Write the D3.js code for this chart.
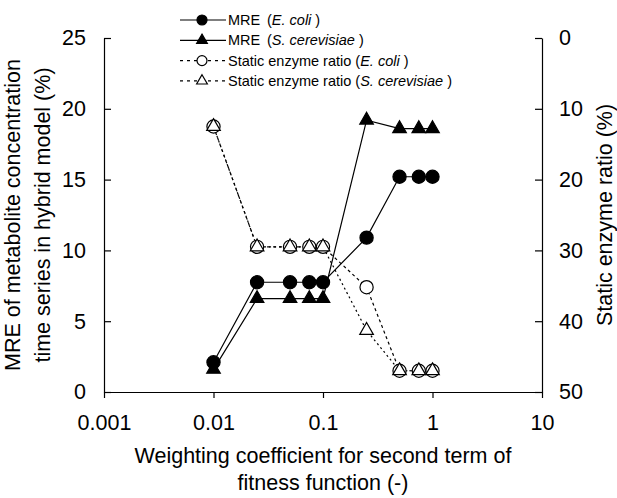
<!DOCTYPE html>
<html>
<head>
<meta charset="utf-8">
<script src="https://cdn.jsdelivr.net/npm/d3@7"></script>
<style>
  body { margin: 0; background: #fff; }
  svg { display: block; font-family: 'Liberation Sans', Arial, sans-serif; }
</style>
</head>
<body>
<svg id="chart" width="617" height="498"></svg>
<script>
// Data
const xValues = [0.01, 0.025, 0.05, 0.075, 0.1, 0.25, 0.5, 0.75, 1];
const mreEcoli = [2.1, 7.75, 7.75, 7.75, 7.75, 10.9, 15.2, 15.2, 15.2];
const mreScer = [1.6, 6.6, 6.6, 6.6, 6.6, 19.2, 18.6, 18.6, 18.6];
const staticEcoli = [12.5, 29.5, 29.5, 29.5, 29.5, 35.2, 47.0, 47.0, 47.0];
const staticScer = [12.5, 29.5, 29.5, 29.5, 29.5, 41.3, 47.0, 47.0, 47.0];

const xTicks = [0.001, 0.01, 0.1, 1, 10];
const xTickLabels = ['0.001', '0.01', '0.1', '1', '10'];
const yLeftTicks = [0, 5, 10, 15, 20, 25];
const yRightTicks = [0, 10, 20, 30, 40, 50];

const svg = d3.select('#chart');
const fontSize = '21.5px';

// Plot area
const plot = { left: 104, right: 542, top: 38, bottom: 392 };

const x = d3.scaleLog().domain([0.001, 10]).range([plot.left, plot.right]);
const yL = d3.scaleLinear().domain([0, 25]).range([plot.bottom, plot.top]);
const yR = d3.scaleLinear().domain([0, 50]).range([plot.top, plot.bottom]);

// Axes
const xAxis = svg.append('g')
  .attr('transform', `translate(0,${plot.bottom})`)
  .call(d3.axisBottom(x)
    .tickValues(xTicks)
    .tickFormat((d, i) => xTickLabels[i])
    .tickSize(6)
    .tickSizeOuter(0)
    .tickPadding(17));

const yAxisL = svg.append('g')
  .attr('transform', `translate(${plot.left},0)`)
  .call(d3.axisLeft(yL)
    .tickValues(yLeftTicks)
    .tickSize(-7)
    .tickSizeOuter(0)
    .tickPadding(18));

const yAxisR = svg.append('g')
  .attr('transform', `translate(${plot.right},0)`)
  .call(d3.axisRight(yR)
    .tickValues(yRightTicks)
    .tickSize(-7)
    .tickSizeOuter(0)
    .tickPadding(17));

[xAxis, yAxisL, yAxisR].forEach((g) => {
  g.selectAll('path, line').attr('stroke', '#000').attr('stroke-width', 1.2);
  g.selectAll('text')
    .attr('fill', '#000')
    .attr('font-size', fontSize)
    .attr('font-family', "'Liberation Sans', Arial, sans-serif");
});

// Axis titles
svg.append('text')
  .attr('x', 323)
  .attr('y', 463)
  .attr('text-anchor', 'middle')
  .attr('font-size', fontSize)
  .text('Weighting coefficient for second term of');
svg.append('text')
  .attr('x', 323)
  .attr('y', 490)
  .attr('text-anchor', 'middle')
  .attr('font-size', fontSize)
  .text('fitness function (-)');

const midY = (plot.top + plot.bottom) / 2;
svg.append('text')
  .attr('transform', `translate(20,${midY}) rotate(-90)`)
  .attr('text-anchor', 'middle')
  .attr('font-size', fontSize)
  .text('MRE of metabolite concentration');
svg.append('text')
  .attr('transform', `translate(50,${midY}) rotate(-90)`)
  .attr('text-anchor', 'middle')
  .attr('font-size', fontSize)
  .text('time series in hybrid model (%)');
svg.append('text')
  .attr('transform', `translate(612,${midY}) rotate(-90)`)
  .attr('text-anchor', 'middle')
  .attr('font-size', fontSize)
  .text('Static enzyme ratio (%)');

// Series definitions
const triangle = d3.symbol().type(d3.symbolTriangle).size(80);

const series = [
  { values: staticEcoli, y: yR, dash: '3,3', marker: 'circle', fill: '#fff' },
  { values: staticScer, y: yR, dash: '2,3', marker: 'triangle', fill: '#fff' },
  { values: mreScer, y: yL, dash: null, marker: 'triangle', fill: '#000' },
  { values: mreEcoli, y: yL, dash: null, marker: 'circle', fill: '#000' }
];

const line = (s) => d3.line()
  .x((d, i) => x(xValues[i]))
  .y((d) => s.y(d));

series.forEach((s) => {
  svg.append('path')
    .datum(s.values)
    .attr('d', line(s))
    .attr('fill', 'none')
    .attr('stroke', '#000')
    .attr('stroke-width', 1.2)
    .attr('stroke-dasharray', s.dash);
});

series.forEach((s) => {
  const g = svg.append('g');
  s.values.forEach((v, i) => {
    const cx = x(xValues[i]);
    const cy = s.y(v);
    if (s.marker === 'circle') {
      g.append('circle')
        .attr('cx', cx)
        .attr('cy', cy)
        .attr('r', 6.6)
        .attr('fill', s.fill)
        .attr('stroke', '#000')
        .attr('stroke-width', 1.2);
    } else {
      g.append('path')
        .attr('d', triangle())
        .attr('transform', `translate(${cx},${cy})`)
        .attr('fill', s.fill)
        .attr('stroke', '#000')
        .attr('stroke-width', 1.2);
    }
  });
});

// Legend
const legendItems = [
  { label: 'MRE', species: 'E. coli', marker: 'circle', fill: '#000', dash: null },
  { label: 'MRE', species: 'S. cerevisiae', marker: 'triangle', fill: '#000', dash: null },
  { label: 'Static enzyme ratio ', species: 'E. coli', marker: 'circle', fill: '#fff', dash: '3,4' },
  { label: 'Static enzyme ratio ', species: 'S. cerevisiae', marker: 'triangle', fill: '#fff', dash: '3,4' }
];

const legend = svg.append('g');
legendItems.forEach((d, i) => {
  const ly = 20 + i * 20.3;
  legend.append('line')
    .attr('x1', 180).attr('x2', 226)
    .attr('y1', ly).attr('y2', ly)
    .attr('stroke', '#000')
    .attr('stroke-width', 1.2)
    .attr('stroke-dasharray', d.dash);
  if (d.marker === 'circle') {
    legend.append('circle')
      .attr('cx', 202).attr('cy', ly).attr('r', 5)
      .attr('fill', d.fill).attr('stroke', '#000').attr('stroke-width', 1.2);
  } else {
    legend.append('path')
      .attr('d', d3.symbol().type(d3.symbolTriangle).size(50)())
      .attr('transform', `translate(202,${ly})`)
      .attr('fill', d.fill).attr('stroke', '#000').attr('stroke-width', 1.2);
  }
  const t = legend.append('text')
    .attr('x', 228)
    .attr('y', ly + 5)
    .attr('font-size', '14.5px');
  t.append('tspan').text(d.label);
  const open = t.append('tspan').text('(');
  if (d.label === 'MRE') open.attr('x', 267);
  t.append('tspan').attr('font-style', 'italic').text(d.species + ' ');
  t.append('tspan').text(')');
});
</script>
</body>
</html>
